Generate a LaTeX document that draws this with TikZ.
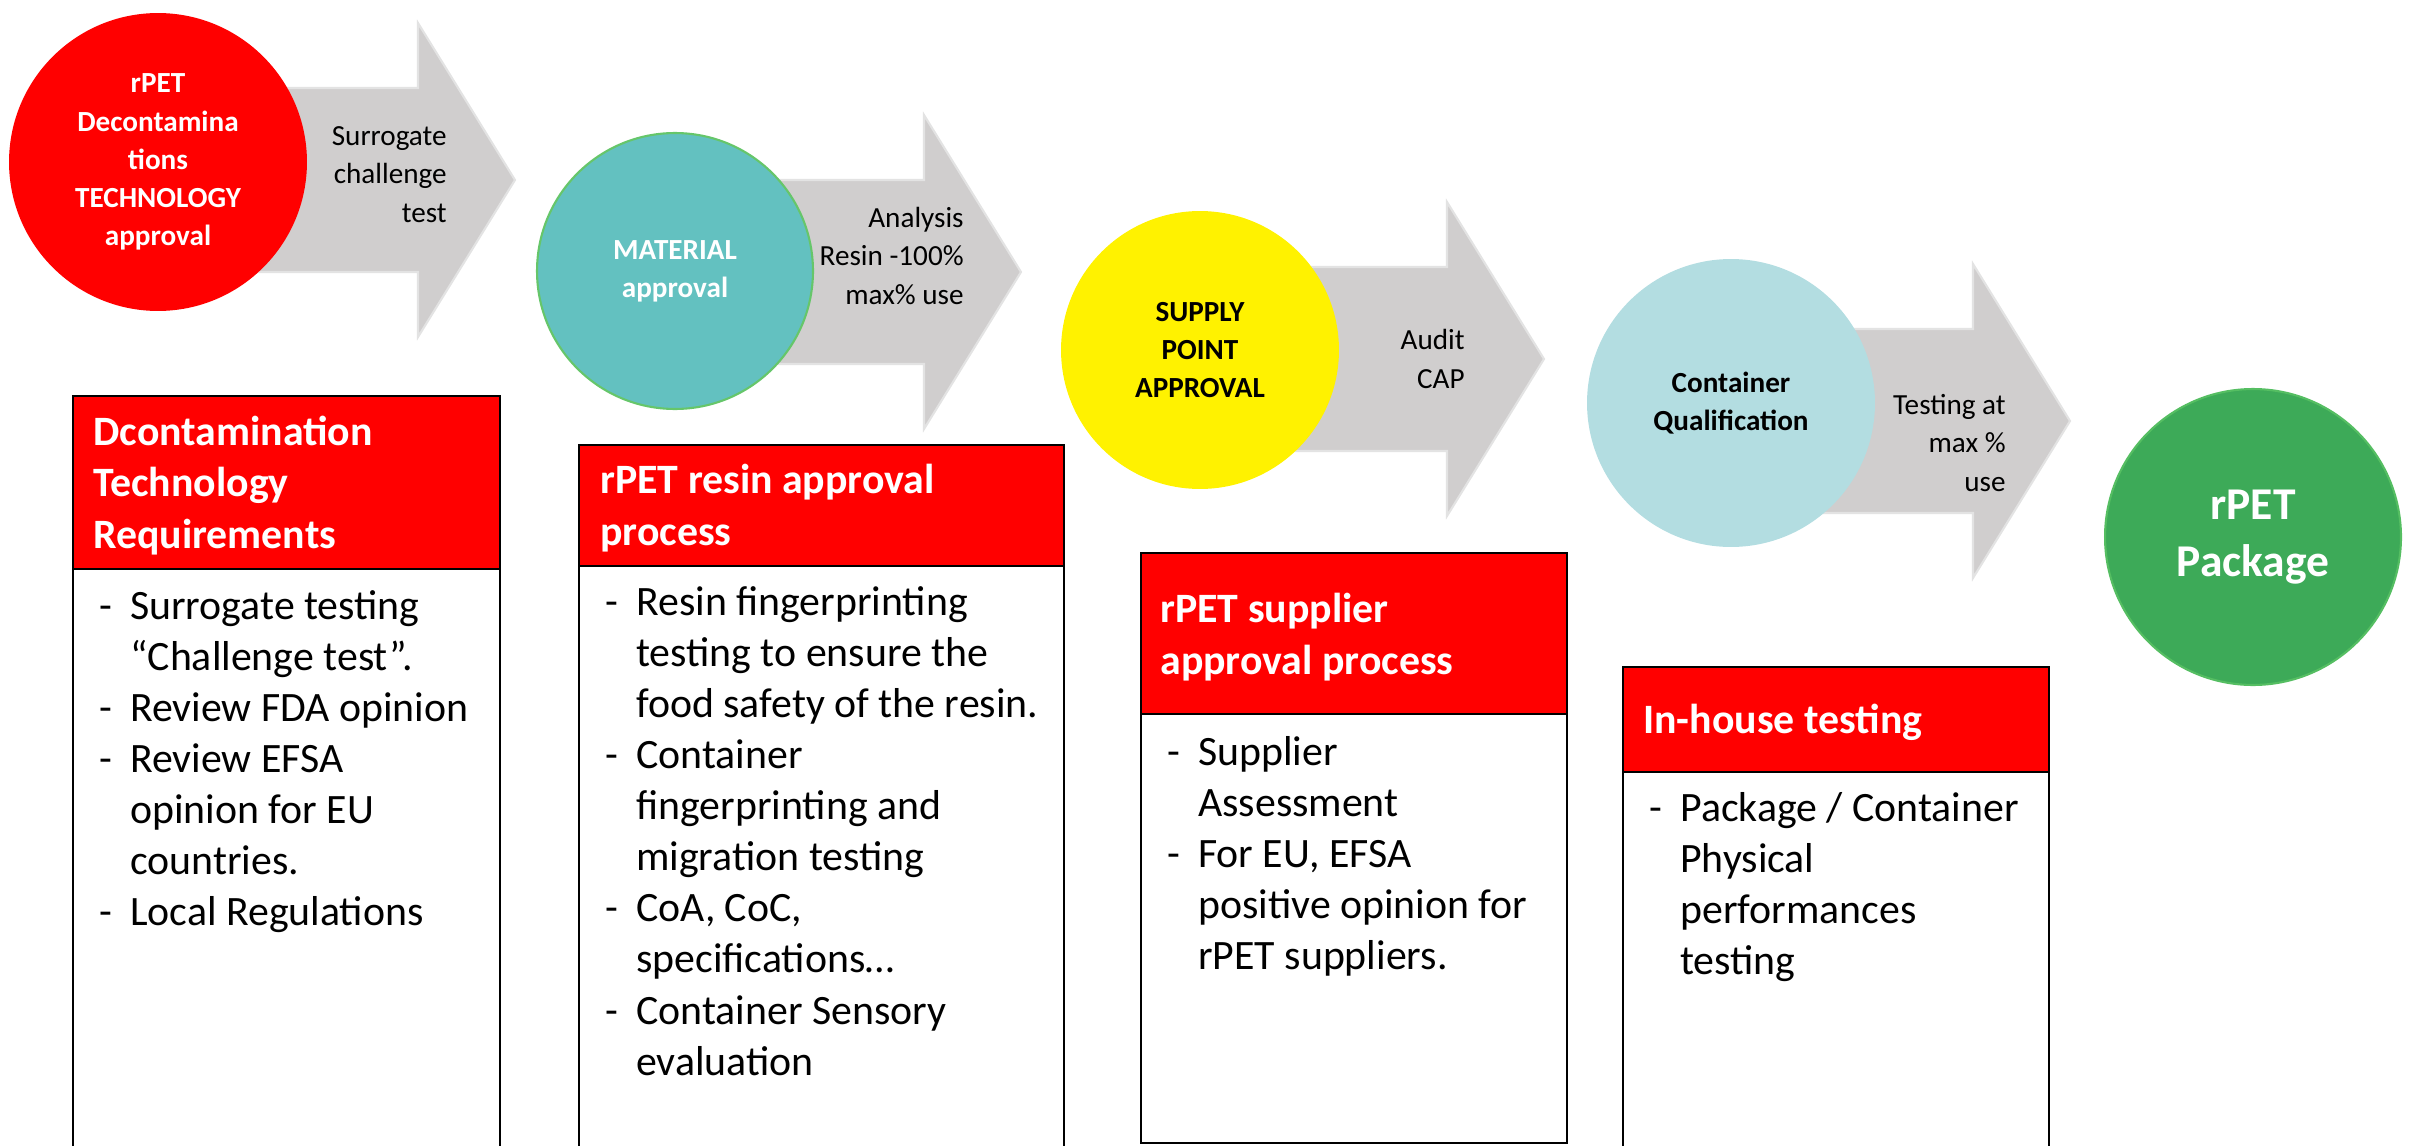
\documentclass[tikz,border=0pt]{standalone}
\usepackage{fontspec}
\setmainfont{Carlito}

\definecolor{alarmred}{HTML}{FF0000}
\definecolor{tealfill}{HTML}{63C1C0}
\definecolor{tealedge}{HTML}{66C66A}
\definecolor{paleblue}{HTML}{B3DDE1}
\definecolor{leafgreen}{HTML}{3DAA58}
\definecolor{leafedge}{HTML}{55BE62}
\definecolor{arrowgray}{HTML}{D0CECE}
\definecolor{arrowedge}{HTML}{E3E3E3}

\newcommand{\dashlist}[1]{\begin{tabular}[t]{@{}p{17.6pt}@{}l@{}}#1\end{tabular}}

\tikzset{
  bubble/.style={circle, inner sep=0pt, align=center,
    font=\fontsize{16.6}{21.7}\selectfont\bfseries},
  flowarrow/.style={fill=arrowgray, draw=arrowedge, line width=1.2pt},
  steplabel/.style={align=right, anchor=base east, inner sep=0pt,
    font=\fontsize{16.6}{21.7}\selectfont},
  headtext/.style={anchor=base west, align=left, inner sep=0pt, text=white,
    font=\fontsize{23.8}{29.1}\selectfont\bfseries},
  listtext/.style={anchor=base west, inner sep=0pt,
    font=\fontsize{23.8}{29.1}\selectfont},
  boxline/.style={draw=black, line width=1.2pt}
}

\begin{document}
\begin{tikzpicture}[x=0.02cm, y=-0.02cm]
  \useasboundingbox (0,0) rectangle (2418,1146);

  % Block arrows
  \foreach \lx/\hx/\cy in {158/418/180, 675/924/272, 1200/1447/359, 1731/1973/421}
    \draw[flowarrow] (\lx,\cy-92) -- (\hx,\cy-92) -- (\hx,\cy-157) -- (\hx+97,\cy)
      -- (\hx,\cy+157) -- (\hx,\cy+92) -- (\lx,\cy+92) -- cycle;

  % Arrow labels (placed by their last line)
  \node[steplabel] (lblsurr) at (447,222) {Surrogate\\challenge\\test};
  \node[steplabel] (lblana) at (964,304) {Analysis\\Resin -100\%\\max\% use};
  \node[steplabel] (lblaudit) at (1465,388) {Audit\\CAP};
  \node[steplabel] (lbltest) at (2006,491) {Testing at\\max \%\\use};

  % Stage circles
  \node[bubble, fill=alarmred, text=white, minimum size=5.96cm] (tech) at (158,162)
    {rPET\\Decontamina\\tions\\TECHNOLOGY\\approval};
  \node[bubble, fill=tealfill, draw=tealedge, line width=1.2pt, text=white,
    minimum size=5.52cm] (material) at (675,271) {MATERIAL\\approval};
  \node[bubble, fill=yellow, minimum size=5.56cm] (supply) at (1200,350)
    {SUPPLY\\POINT\\APPROVAL};
  \node[bubble, fill=paleblue, minimum size=5.76cm] (qualif) at (1731,403)
    {Container\\Qualification};
  \node[bubble, fill=leafgreen, draw=leafedge, line width=1.2pt, text=white,
    minimum size=5.92cm, font=\fontsize{25.9}{32.3}\selectfont\bfseries] (package)
    at (2253,537) {rPET\\Package};

  % Box 1: decontamination
  \draw[boxline, fill=white] (73,569) rectangle (500,1170);
  \draw[boxline, fill=alarmred] (73,396) rectangle (500,569);
  \node[headtext] (headtech) at (93,548) {Dcontamination\\Technology\\Requirements};
  \node[listtext] (listtech) at (99,619) {\dashlist{
    - & Surrogate testing\\
      & “Challenge test”.\\
    - & Review FDA opinion\\
    - & Review EFSA\\
      & opinion for EU\\
      & countries.\\
    - & Local Regulations}};

  % Box 2: resin
  \draw[boxline, fill=white] (579,566) rectangle (1064,1170);
  \draw[boxline, fill=alarmred] (579,445) rectangle (1064,566);
  \node[headtext] (headresin) at (600,545) {rPET resin approval\\process};
  \node[listtext] (listresin) at (605,615) {\dashlist{
    - & Resin fingerprinting\\
      & testing to ensure the\\
      & food safety of the resin.\\
    - & Container\\
      & fingerprinting and\\
      & migration testing\\
    - & CoA, CoC,\\
      & specifications…\\
    - & Container Sensory\\
      & evaluation}};

  % Box 3: supplier
  \draw[boxline, fill=white] (1141,714) rectangle (1567,1143);
  \draw[boxline, fill=alarmred] (1141,553) rectangle (1567,714);
  \node[headtext] (headsupp) at (1160,674) {rPET supplier\\approval process};
  \node[listtext] (listsupp) at (1167,765) {\dashlist{
    - & Supplier\\
      & Assessment\\
    - & For EU, EFSA\\
      & positive opinion for\\
      & rPET suppliers.}};

  % Box 4: in-house
  \draw[boxline, fill=white] (1623,772) rectangle (2049,1170);
  \draw[boxline, fill=alarmred] (1623,667) rectangle (2049,772);
  \node[headtext] (headhouse) at (1643,733) {In-house testing};
  \node[listtext] (listhouse) at (1649,821) {\dashlist{
    - & Package / Container\\
      & Physical\\
      & performances\\
      & testing}};
\end{tikzpicture}
\end{document}
